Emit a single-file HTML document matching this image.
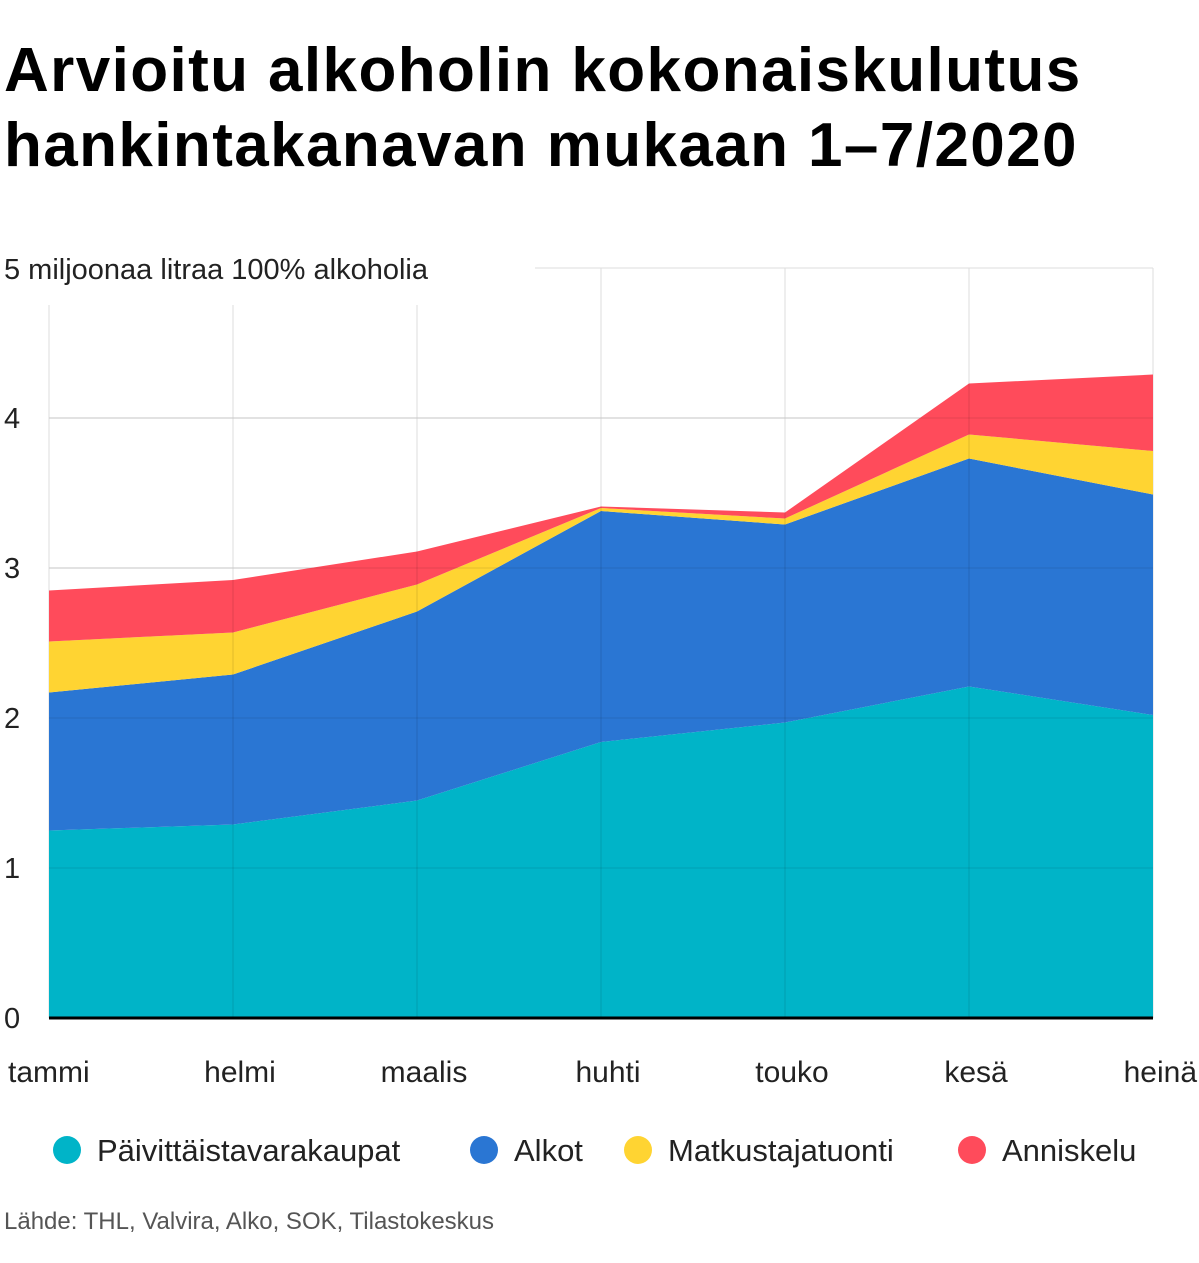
<!DOCTYPE html>
<html><head><meta charset="utf-8">
<style>
body{margin:0;background:#fff;font-family:"Liberation Sans",sans-serif;}
#wrap{position:relative;width:1199px;height:1263px;overflow:hidden;}
h1{position:absolute;left:4px;top:33px;margin:0;font-size:62px;line-height:75px;font-weight:bold;color:#000;letter-spacing:1.4px;white-space:nowrap;}
</style></head><body>
<div id="wrap">
<h1>Arvioitu alkoholin kokonaiskulutus<br>hankintakanavan mukaan 1–7/2020</h1>
<svg id="chart" width="1199" height="1263" style="position:absolute;left:0;top:0"></svg>
</div>
<script>
const categories=["tammi","helmi","maalis","huhti","touko","kesä","heinä"];
const paivittais=[1.25,1.29,1.45,1.84,1.97,2.21,2.02];
const alkot=[0.92,1.00,1.26,1.54,1.32,1.52,1.47];
const matkustaja=[0.34,0.28,0.18,0.02,0.04,0.16,0.29];
const anniskelu=[0.34,0.35,0.22,0.01,0.04,0.34,0.51];
const yTicks=[0,1,2,3,4];
const seriesNames=["Päivittäistavarakaupat","Alkot","Matkustajatuonti","Anniskelu"];
const colors=["#00b4c8","#2a76d3","#ffd432","#ff4b5b"];
const NS="http://www.w3.org/2000/svg";
const svg=document.getElementById('chart');
const x0=49,x1=1153,y0=1018,pxPerUnit=150;
const xs=i=>x0+i*(x1-x0)/(categories.length-1);
const ys=v=>y0-v*pxPerUnit;
function mk(t,a){const e=document.createElementNS(NS,t);for(const k in a)e.setAttribute(k,a[k]);svg.appendChild(e);return e;}
yTicks.slice(1).forEach(t=>{const l=mk('line',{x1:x0,x2:x1,y1:ys(t),y2:ys(t),stroke:'#ddd','stroke-width':1});

});
const topLine=mk('line',{x1:535,x2:x1,y1:ys(5),y2:ys(5),stroke:'#ddd'});


categories.forEach((c,i)=>{const l=mk('line',{x1:xs(i),x2:xs(i),y1:i<3?305:ys(5),y2:y0,stroke:'#ddd'});

});
const series=[paivittais,alkot,matkustaja,anniskelu];
let base=categories.map(()=>0);
series.forEach((s,si)=>{
  const topv=base.map((b,i)=>b+s[i]);
  let d='M'+categories.map((c,i)=>xs(i)+','+ys(topv[i])).join('L');
  for(let i=categories.length-1;i>=0;i--)d+='L'+xs(i)+','+ys(base[i]);
  d+='Z';
  const p=mk('path',{d:d,fill:colors[si]});
  
  
  base=topv;
});
categories.forEach((c,i)=>{if(i>0&&i<categories.length-1){const l=mk('line',{x1:xs(i),x2:xs(i),y1:ys(base[i]),y2:y0,stroke:'rgba(0,0,0,0.12)'});

}});
yTicks.slice(1).forEach(t=>{const l=mk('line',{x1:x0,x2:x1,y1:ys(t),y2:ys(t),stroke:'rgba(0,0,0,0.1)'});

});
const ax=mk('line',{x1:x0,x2:x1,y1:y0,y2:y0,stroke:'#000','stroke-width':3});


yTicks.forEach(t=>{const e=mk('text',{x:4,y:ys(t)+10,'font-size':29,fill:'#222'});e.textContent=t;

});
const yt=mk('text',{x:4,y:ys(5)+11,'font-size':29,fill:'#222'});yt.textContent='5 miljoonaa litraa 100% alkoholia';


categories.forEach((c,i)=>{const a=i===0?'start':(i===categories.length-1?'end':'middle');
const e=mk('text',{x:i===0?8:(i===categories.length-1?1197:xs(i)+7),y:1082,'font-size':30,fill:'#222','text-anchor':a});e.textContent=c;

});
const lx=[67,484,638,972];
seriesNames.forEach((n,i)=>{const c=mk('circle',{cx:lx[i],cy:1150,r:14,fill:colors[i]});


const t=mk('text',{x:lx[i]+30,y:1161,'font-size':31,fill:'#222'});t.textContent=n;

});
const src=mk('text',{x:4,y:1229,'font-size':24,fill:'#555'});src.textContent='Lähde: THL, Valvira, Alko, SOK, Tilastokeskus';


</script>
</body></html>
